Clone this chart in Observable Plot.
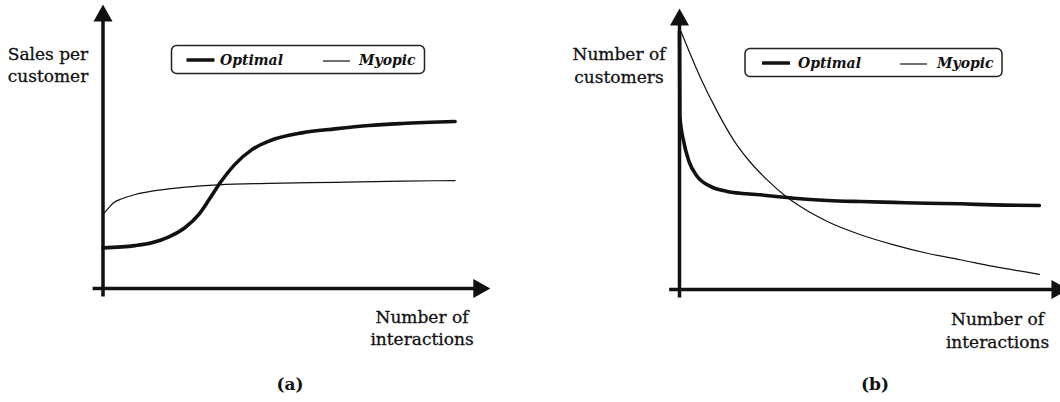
<!DOCTYPE html>
<html>
<head>
<meta charset="utf-8">
<script src="https://cdn.jsdelivr.net/npm/d3@7"></script>
<script src="https://cdn.jsdelivr.net/npm/@observablehq/plot@0.6"></script>
<style>
  body { margin: 0; background: #fff; }
  #wrap { position: relative; width: 1060px; height: 402px; overflow: hidden; background: #fff; }
  .panel { position: absolute; top: 0; width: 530px; height: 402px; }
  #overlay { position: absolute; left: 0; top: 0; width: 1060px; height: 402px; pointer-events: none; }
  #overlay text { font-family: "DejaVu Serif", serif; fill: #111; }
  .lbl { font-size: 17px; stroke: #111; stroke-width: 0.3px; }
  .cap { font-size: 17px; font-weight: bold; }
  .leg { font-size: 14px; font-style: italic; font-weight: bold; }
</style>
</head>
<body>
<div id="wrap">
  <div class="panel" id="pa" style="left:0"></div>
  <div class="panel" id="pb" style="left:530px"></div>
  <svg id="overlay" width="1060" height="402"></svg>
</div>
<script>
// ---------- data ----------
const seriesNames = ["Optimal", "Myopic"];
const panelCaptions = ["(a)", "(b)"];
const yAxisLabels = [["Sales per", "customer"], ["Number of", "customers"]];
const xAxisLabel = ["Number of", "interactions"];

// Panel (a): sales per customer vs number of interactions (arbitrary units 0-100)
const salesOptimalX = [0, 8.4, 12.9, 17.4, 21.6, 25.3, 28.0, 30.6, 34.8, 39.3, 43.8, 52.5, 61.2, 70.2, 78.9, 92.9];
const salesOptimalY = [14.3, 15.1, 16.1, 18.2, 21.4, 26.1, 31.3, 36.6, 43.7, 48.9, 51.9, 54.8, 56.2, 57.4, 58.1, 58.8];
const salesMyopicX = [0, 1.5, 2.8, 5, 8.5, 12.9, 17.3, 21.7, 30.5, 43.7, 61.3, 78.9, 92.9];
const salesMyopicY = [26.1, 28.4, 30.2, 31.6, 33.1, 34.3, 35.1, 35.7, 36.5, 37.0, 37.4, 37.8, 38.0];

// Panel (b): number of customers vs number of interactions
const custOptimalX = [0, 0.1, 1.1, 2.5, 4.7, 8.2, 12.6, 21.4, 30.2, 39.1, 47.9, 56.7, 65.5, 74.3, 83.1, 95.2];
const custOptimalY = [91.8, 61.6, 52.7, 45.6, 40.2, 36.7, 34.9, 33.7, 32.5, 31.7, 31.3, 31.0, 30.7, 30.5, 30.1, 29.9];
const custMyopicX = [0.4, 5.6, 10.0, 14.4, 18.8, 23.2, 27.6, 32.0, 39.1, 47.9, 56.7, 65.5, 74.3, 83.1, 95.2];
const custMyopicY = [91.8, 75.2, 63.3, 53.0, 45.2, 39.0, 33.7, 29.5, 24.2, 19.5, 15.9, 12.9, 10.6, 8.2, 5.4];

// ---------- helpers ----------
const zip = (xs, ys) => xs.map((x, i) => ({x, y: ys[i]}));

const arrowRight = { draw(ctx) { ctx.moveTo(0, 0); ctx.lineTo(-17, -9.5); ctx.lineTo(-17, 9.5); ctx.closePath(); } };
const arrowUp = { draw(ctx) { ctx.moveTo(0, 0); ctx.lineTo(-9.5, 17); ctx.lineTo(9.5, 17); ctx.closePath(); } };

function panel(opt, myo, cfg) {
  return Plot.plot({
    width: 530,
    height: 402,
    marginLeft: cfg.ml, marginRight: cfg.mr, marginTop: cfg.mt, marginBottom: cfg.mb,
    x: {domain: [0, 100], axis: null},
    y: {domain: [0, 100], axis: null},
    style: {overflow: "visible", background: "transparent"},
    marks: [
      Plot.ruleY([0], {x1: cfg.xStart, x2: cfg.xTip - 3, stroke: "#111", strokeWidth: 3.5}),
      Plot.ruleX([0], {y1: cfg.yStart, y2: 95, stroke: "#111", strokeWidth: 3.5}),
      Plot.dot([{x: cfg.xTip, y: 0}], {x: "x", y: "y", r: 5, symbol: arrowRight, fill: "#111", stroke: "none"}),
      Plot.dot([{x: 0, y: 100}], {x: "x", y: "y", r: 5, symbol: arrowUp, fill: "#111", stroke: "none"}),
      Plot.line(myo, {x: "x", y: "y", stroke: "#111", strokeWidth: 1.2, curve: "monotone-x"}),
      Plot.line(opt, {x: "x", y: "y", stroke: "#111", strokeWidth: 3.6, curve: "monotone-x"})
    ]
  });
}

document.getElementById("pa").append(
  panel(zip(salesOptimalX, salesOptimalY), zip(salesMyopicX, salesMyopicY),
        {ml: 102.5, mr: 48.5, mt: 4, mb: 114, xStart: -2.6, yStart: -3, xTip: 102.2})
);
document.getElementById("pb").append(
  panel(zip(custOptimalX, custOptimalY), zip(custMyopicX, custMyopicY),
        {ml: 149, mr: 3, mt: 8, mb: 113, xStart: -2.6, yStart: -3, xTip: 102.9})
);

// ---------- labels and legends (overlay) ----------
const svg = d3.select("#overlay");
function twoLine(lines, cx, y0, dy, cls) {
  lines.forEach((t, i) => svg.append("text").attr("class", cls).attr("x", cx).attr("y", y0 + i * dy)
    .attr("text-anchor", "middle").text(t));
}
twoLine(yAxisLabels[0], 48, 60, 22, "lbl");
twoLine(yAxisLabels[1], 619, 60, 23, "lbl");
twoLine(xAxisLabel, 422, 323, 22, "lbl");
twoLine(xAxisLabel, 997.5, 325, 23, "lbl");
svg.append("text").attr("class", "cap").attr("x", 290).attr("y", 390).attr("text-anchor", "middle").text(panelCaptions[0]);
svg.append("text").attr("class", "cap").attr("x", 875).attr("y", 390).attr("text-anchor", "middle").text(panelCaptions[1]);

function legend(L) {
  const g = svg.append("g");
  g.append("rect").attr("x", L.x).attr("y", L.y).attr("width", L.w).attr("height", 28)
    .attr("rx", 5).attr("fill", "#fff").attr("stroke", "#222").attr("stroke-width", 1.5);
  const my = L.y + 14.5;
  g.append("line").attr("x1", L.s1).attr("x2", L.s1 + 28).attr("y1", my).attr("y2", my)
    .attr("stroke", "#111").attr("stroke-width", 3.5);
  g.append("text").attr("class", "leg").attr("x", L.t1).attr("y", my + 4.5).text(seriesNames[0]);
  g.append("line").attr("x1", L.s2).attr("x2", L.s2 + 27).attr("y1", my + 1).attr("y2", my + 1)
    .attr("stroke", "#111").attr("stroke-width", 1.2);
  g.append("text").attr("class", "leg").attr("x", L.t2).attr("y", my + 5).text(seriesNames[1]);
}
legend({x: 171.5, y: 45.5, w: 253, s1: 186.5, t1: 220, s2: 323, t2: 359});
legend({x: 745, y: 48.5, w: 257, s1: 762, t1: 798, s2: 900, t2: 937});
</script>
</body>
</html>
